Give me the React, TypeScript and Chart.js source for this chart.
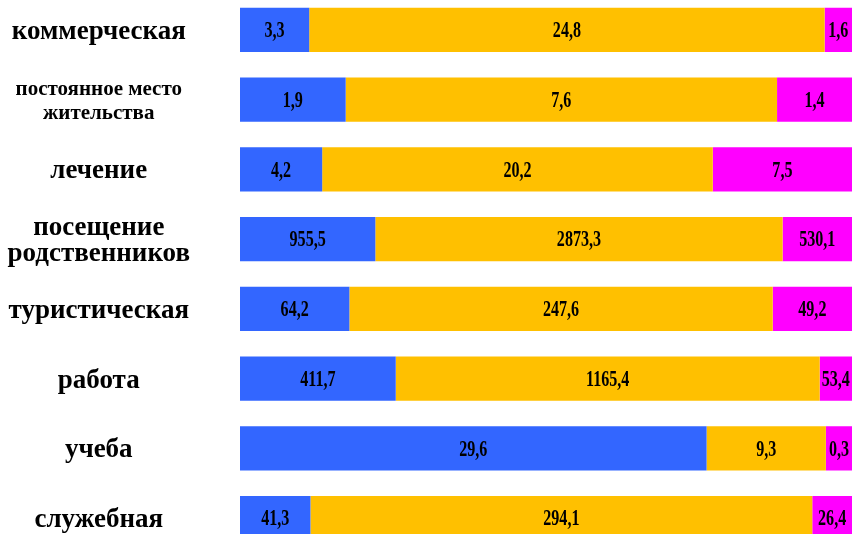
import React, { useEffect, useRef } from "react";
import { Chart, registerables } from "chart.js";

Chart.register(...registerables);

const categories: (string | string[])[] = [
  "коммерческая",
  ["постоянное место", "жительства"],
  "лечение",
  ["посещение", "родственников"],
  "туристическая",
  "работа",
  "учеба",
  "служебная",
];
const smallLabel = [false, true, false, false, false, false, false, false];

// value labels printed on the segments
const labelBlue = [3.3, 1.9, 4.2, 955.5, 64.2, 411.7, 29.6, 41.3];
const labelOrange = [24.8, 7.6, 20.2, 2873.3, 247.6, 1165.4, 9.3, 294.1];
const labelMagenta = [1.6, 1.4, 7.5, 530.1, 49.2, 53.4, 0.3, 26.4];

// segment shares (% of bar length) as drawn in the picture
const shareBlue = [11.2, 17.1, 13.3, 21.9, 17.7, 25.2, 75.5, 11.4];
const shareOrange = [83.4, 69.8, 63.2, 65.9, 68.5, 68.6, 19.3, 81.2];
const shareMagenta = [5.4, 13.1, 23.5, 12.2, 13.8, 6.2, 5.2, 7.4];

const labels = [labelBlue, labelOrange, labelMagenta];
const shares = [shareBlue, shareOrange, shareMagenta];
const colors = ["#3366FF", "#FFC000", "#FF00FF"];

const fmt = (v: number) => v.toFixed(1).replace(".", ",");

const VISIBLE_RIGHT = 852;

const valueLabels = {
  id: "valueLabels",
  afterDatasetsDraw(chart: any) {
    const ctx = chart.ctx;
    ctx.save();
    ctx.fillStyle = "#000";
    ctx.textAlign = "center";
    ctx.textBaseline = "middle";
    ctx.font = "bold 24px 'Liberation Serif', 'Times New Roman', serif";
    chart.data.datasets.forEach((ds: any, di: number) => {
      const meta = chart.getDatasetMeta(di);
      meta.data.forEach((el: any, i: number) => {
        const right = Math.min(el.x, VISIBLE_RIGHT);
        const x = (right + el.base) / 2;
        const y = el.y;
        ctx.save();
        ctx.translate(x, y + 1);
        ctx.scale(0.67, 1);
        ctx.fillText(fmt(labels[di][i]), 0, 0);
        ctx.restore();
      });
    });
    ctx.restore();
  },
};

export default function App() {
  const ref = useRef<HTMLCanvasElement>(null);
  useEffect(() => {
    const chart = new Chart(ref.current!, {
      type: "bar",
      data: {
        labels: categories,
        datasets: shares.map((arr, k) => ({
          data: arr,
          backgroundColor: colors[k],
          borderWidth: 0,
          barPercentage: 0.635,
          categoryPercentage: 1,
        })),
      },
      options: {
        indexAxis: "y",
        animation: false,
        responsive: true,
        maintainAspectRatio: false,
        layout: { padding: 0 },
        plugins: { legend: { display: false }, tooltip: { enabled: false } },
        scales: {
          x: { stacked: true, min: 0, max: 100, display: false },
          y: {
            stacked: true,
            border: { display: false },
            grid: { display: false, drawTicks: false },
            afterFit: (s: any) => {
              s.width = 240;
              s.paddingTop = 0;
              s.paddingBottom = 0;
            },
            ticks: {
              color: "#000",
              crossAlign: "center",
              padding: 50,
              labelOffset: 2,
              font: (c: any) =>
                smallLabel[c.index]
                  ? { family: "'Liberation Serif', serif", size: 21, weight: "bold", lineHeight: 1.15 }
                  : { family: "'Liberation Serif', serif", size: 27, weight: "bold", lineHeight: 0.95 },
            },
          },
        },
      },
      plugins: [valueLabels],
    });
    return () => chart.destroy();
  }, []);
  return (
    <div style={{ position: "fixed", left: 0, top: 0, width: 852, height: 534, overflow: "hidden", background: "#fff" }}>
      <div style={{ position: "absolute", left: 0, top: -5, width: 858, height: 558 }}>
        <canvas ref={ref} />
      </div>
    </div>
  );
}
